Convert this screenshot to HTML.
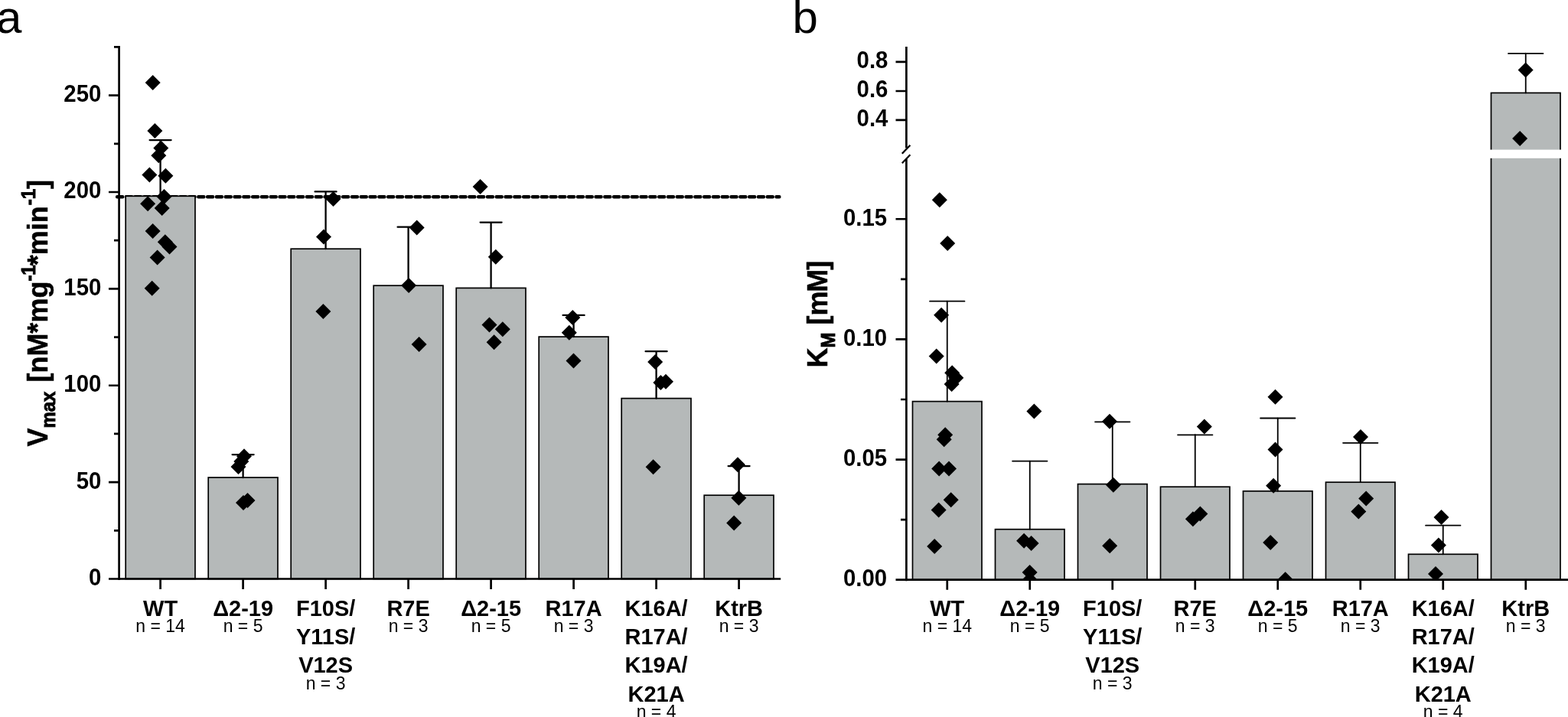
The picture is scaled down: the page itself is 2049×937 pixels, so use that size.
<!DOCTYPE html>
<html lang="en"><head><meta charset="utf-8"><title>Figure</title>
<style>html,body{margin:0;padding:0;background:#fff}body{width:2049px;height:937px;overflow:hidden}svg{display:block}text{font-family:"Liberation Sans",sans-serif;fill:#000}.x{font-weight:bold;font-size:29px}.b{font-weight:bold;font-size:29.4px}.n{font-size:23px}.yl{font-weight:bold;font-size:36px}.yl{stroke:#000;stroke-width:0.5px}.s{font-size:24px;stroke-width:0.9px}.pl{font-size:60px}</style></head><body>
<svg width="2049" height="937" viewBox="0 0 2049 937">
<rect width="2049" height="937" fill="#fff"/>
<defs><clipPath id="ca"><rect x="0" y="0" width="1040" height="756.5"/></clipPath><clipPath id="cb"><rect x="1040" y="0" width="1009" height="757.7"/></clipPath></defs>
<!-- panel a -->
<text class="pl" x="-5" y="42.6">a</text>
<line x1="153.1" y1="257.2" x2="1018.4" y2="257.2" stroke="#000" stroke-width="4.4" stroke-dasharray="7.1 4.7" stroke-linecap="round"/>
<g fill="#b5b9b9" stroke="#000" stroke-width="1.7">
<rect x="164.2" y="256.3" width="90.8" height="500.2"/>
<rect x="272.2" y="624" width="90.8" height="132.5"/>
<rect x="380.2" y="325.2" width="90.8" height="431.3"/>
<rect x="488.2" y="373.2" width="90.8" height="383.3"/>
<rect x="596.2" y="376.4" width="90.8" height="380.1"/>
<rect x="704.2" y="440.1" width="90.8" height="316.4"/>
<rect x="812.2" y="520.6" width="90.8" height="235.9"/>
<rect x="920.2" y="647.2" width="90.8" height="109.3"/>
</g>
<g stroke="#000" stroke-width="2.3" fill="none" stroke-linecap="round">
<path d="M209.6 256.3V183.1M195.6 183.1H223.6"/>
<path d="M317.6 624V594.1M303.6 594.1H331.6"/>
<path d="M425.6 325.2V250.4M411.6 250.4H439.6"/>
<path d="M533.6 373.2V296.7M519.6 296.7H547.6"/>
<path d="M641.6 376.4V290.6M627.6 290.6H655.6"/>
<path d="M749.6 440.1V411.9M735.6 411.9H763.6"/>
<path d="M857.6 520.6V459.2M843.6 459.2H871.6"/>
<path d="M965.6 647.2V609.1M951.6 609.1H979.6"/>
</g>
<g fill="#000" clip-path="url(#ca)">
<path d="M199.7 97.9L209.7 107.9L199.7 117.9L189.7 107.9Z"/>
<path d="M202.4 160.9L212.4 170.9L202.4 180.9L192.4 170.9Z"/>
<path d="M210.3 183.6L220.3 193.6L210.3 203.6L200.3 193.6Z"/>
<path d="M207.3 193.2L217.3 203.2L207.3 213.2L197.3 203.2Z"/>
<path d="M195.4 218.6L205.4 228.6L195.4 238.6L185.4 228.6Z"/>
<path d="M216.4 219.7L226.4 229.7L216.4 239.7L206.4 229.7Z"/>
<path d="M214.5 246.9L224.5 256.9L214.5 266.9L204.5 256.9Z"/>
<path d="M193.1 256.3L203.1 266.3L193.1 276.3L183.1 266.3Z"/>
<path d="M211.7 262L221.7 272L211.7 282L201.7 272Z"/>
<path d="M199.6 292.1L209.6 302.1L199.6 312.1L189.6 302.1Z"/>
<path d="M215.8 306.2L225.8 316.2L215.8 326.2L205.8 316.2Z"/>
<path d="M221.5 312.5L231.5 322.5L221.5 332.5L211.5 322.5Z"/>
<path d="M205.6 326.5L215.6 336.5L205.6 346.5L195.6 336.5Z"/>
<path d="M198.7 366.8L208.7 376.8L198.7 386.8L188.7 376.8Z"/>
<path d="M319 586.2L329 596.2L319 606.2L309 596.2Z"/>
<path d="M315.3 593L325.3 603L315.3 613L305.3 603Z"/>
<path d="M311.5 600L321.5 610L311.5 620L301.5 610Z"/>
<path d="M318 647.1L328 657.1L318 667.1L308 657.1Z"/>
<path d="M323.5 644.1L333.5 654.1L323.5 664.1L313.5 654.1Z"/>
<path d="M435.5 249.9L445.5 259.9L435.5 269.9L425.5 259.9Z"/>
<path d="M423 299.5L433 309.5L423 319.5L413 309.5Z"/>
<path d="M422.4 397.1L432.4 407.1L422.4 417.1L412.4 407.1Z"/>
<path d="M544.7 287.6L554.7 297.6L544.7 307.6L534.7 297.6Z"/>
<path d="M534.1 362.9L544.1 372.9L534.1 382.9L524.1 372.9Z"/>
<path d="M547.6 440L557.6 450L547.6 460L537.6 450Z"/>
<path d="M627.6 233.9L637.6 243.9L627.6 253.9L617.6 243.9Z"/>
<path d="M647.8 325.7L657.8 335.7L647.8 345.7L637.8 335.7Z"/>
<path d="M639.5 414.4L649.5 424.4L639.5 434.4L629.5 424.4Z"/>
<path d="M656.8 420.2L666.8 430.2L656.8 440.2L646.8 430.2Z"/>
<path d="M645.6 437.2L655.6 447.2L645.6 457.2L635.6 447.2Z"/>
<path d="M748.3 405.1L758.3 415.1L748.3 425.1L738.3 415.1Z"/>
<path d="M743.8 424.7L753.8 434.7L743.8 444.7L733.8 434.7Z"/>
<path d="M749.5 461.5L759.5 471.5L749.5 481.5L739.5 471.5Z"/>
<path d="M856.2 463L866.2 473L856.2 483L846.2 473Z"/>
<path d="M863.4 489.9L873.4 499.9L863.4 509.9L853.4 499.9Z"/>
<path d="M870 488.8L880 498.8L870 508.8L860 498.8Z"/>
<path d="M853.6 600.2L863.6 610.2L853.6 620.2L843.6 610.2Z"/>
<path d="M964 597.3L974 607.3L964 617.3L954 607.3Z"/>
<path d="M965.4 640.8L975.4 650.8L965.4 660.8L955.4 650.8Z"/>
<path d="M959.2 673.5L969.2 683.5L959.2 693.5L949.2 683.5Z"/>
</g>
<g stroke="#000" stroke-width="2.7" fill="none">
<path d="M155.6 60V758.1"/>
<path d="M142 756.5H1020.2"/>
<path d="M149 693.31H155.6M142 630.12H155.6M149 566.93H155.6M142 503.74H155.6M149 440.55H155.6M142 377.36H155.6M149 314.17H155.6M142 250.98H155.6M149 187.79H155.6M142 124.6H155.6M149 61.41H155.6M209.6 756.5V770M317.6 756.5V770M425.6 756.5V770M533.6 756.5V770M641.6 756.5V770M749.6 756.5V770M857.6 756.5V770M965.6 756.5V770"/>
</g>
<g text-anchor="end">
<text class="b" transform="translate(132.4 764.9) scale(1 1.06)">0</text>
<text class="b" transform="translate(132.4 638.52) scale(1 1.06)">50</text>
<text class="b" transform="translate(132.4 512.14) scale(1 1.06)">100</text>
<text class="b" transform="translate(132.4 385.76) scale(1 1.06)">150</text>
<text class="b" transform="translate(132.4 259.38) scale(1 1.06)">200</text>
<text class="b" transform="translate(132.4 133) scale(1 1.06)">250</text>
</g>
<text class="yl" transform="translate(61.6 583.6) rotate(-90) scale(1 1.04)">V<tspan class="s" dy="9.6">max</tspan><tspan dy="-9.6" dx="2"> [nM*mg</tspan><tspan class="s" dy="-15">-1</tspan><tspan dy="15" dx="-1">*min</tspan><tspan class="s" dy="-15" dx="1">-1</tspan><tspan dy="15">]</tspan></text>
<g text-anchor="middle">
<text class="x" transform="translate(209.6 804.6) scale(1 1.03)">WT</text>
<text class="n" x="209.6" y="826.2">n = 14</text>
<text class="x" transform="translate(317.6 804.6) scale(1 1.03)">Δ2-19</text>
<text class="n" x="317.6" y="826.2">n = 5</text>
<text class="x" transform="translate(425.6 804.6) scale(1 1.03)">F10S/</text>
<text class="x" transform="translate(425.6 842) scale(1 1.03)">Y11S/</text>
<text class="x" transform="translate(425.6 879.4) scale(1 1.03)">V12S</text>
<text class="n" x="425.6" y="901">n = 3</text>
<text class="x" transform="translate(533.6 804.6) scale(1 1.03)">R7E</text>
<text class="n" x="533.6" y="826.2">n = 3</text>
<text class="x" transform="translate(641.6 804.6) scale(1 1.03)">Δ2-15</text>
<text class="n" x="641.6" y="826.2">n = 5</text>
<text class="x" transform="translate(749.6 804.6) scale(1 1.03)">R17A</text>
<text class="n" x="749.6" y="826.2">n = 3</text>
<text class="x" transform="translate(857.6 804.6) scale(1 1.03)">K16A/</text>
<text class="x" transform="translate(857.6 842) scale(1 1.03)">R17A/</text>
<text class="x" transform="translate(857.6 879.4) scale(1 1.03)">K19A/</text>
<text class="x" transform="translate(857.6 916.8) scale(1 1.03)">K21A</text>
<text class="n" x="857.6" y="938.4">n = 4</text>
<text class="x" transform="translate(965.6 804.6) scale(1 1.03)">KtrB</text>
<text class="n" x="965.6" y="826.2">n = 3</text>
</g>
<!-- panel b -->
<text class="pl" x="1035.6" y="42.6">b</text>
<g fill="#b5b9b9" stroke="#000" stroke-width="1.7">
<rect x="1192.5" y="524.6" width="90.5" height="233.1"/>
<rect x="1300.5" y="691.7" width="90.5" height="66"/>
<rect x="1408.5" y="632.6" width="90.5" height="125.1"/>
<rect x="1516.5" y="636.2" width="90.5" height="121.5"/>
<rect x="1624.5" y="641.8" width="90.5" height="115.9"/>
<rect x="1732.5" y="630.2" width="90.5" height="127.5"/>
<rect x="1840.5" y="724.3" width="90.5" height="33.4"/>
<rect x="1948.5" y="121.4" width="90.5" height="636.3"/>
</g>
<rect x="1940" y="195.6" width="109" height="11.2" fill="#fff"/>
<g stroke="#000" stroke-width="1.8" fill="none" stroke-linecap="round">
<path d="M1237.75 524.6V393.4M1215.05 393.7H1260.45"/>
<path d="M1345.75 691.7V602.3M1323.05 602.6H1368.45"/>
<path d="M1453.75 632.6V551M1431.05 551.3H1476.45"/>
<path d="M1561.75 636.2V568M1539.05 568.3H1584.45"/>
<path d="M1669.75 641.8V546.2M1647.05 546.5H1692.45"/>
<path d="M1777.75 630.2V578.5M1755.05 578.8H1800.45"/>
<path d="M1885.75 724.3V686.4M1863.05 686.7H1908.45"/>
<path d="M1993.75 121.4V69.6M1971.05 69.9H2016.45"/>
</g>
<g fill="#000" clip-path="url(#cb)">
<path d="M1227.8 251.2L1237.8 261.2L1227.8 271.2L1217.8 261.2Z"/>
<path d="M1238.2 307.9L1248.2 317.9L1238.2 327.9L1228.2 317.9Z"/>
<path d="M1230.1 401.7L1240.1 411.7L1230.1 421.7L1220.1 411.7Z"/>
<path d="M1223.7 455.6L1233.7 465.6L1223.7 475.6L1213.7 465.6Z"/>
<path d="M1244.2 477.2L1254.2 487.2L1244.2 497.2L1234.2 487.2Z"/>
<path d="M1249.3 483.7L1259.3 493.7L1249.3 503.7L1239.3 493.7Z"/>
<path d="M1243.6 492.1L1253.6 502.1L1243.6 512.1L1233.6 502.1Z"/>
<path d="M1235.2 558.2L1245.2 568.2L1235.2 578.2L1225.2 568.2Z"/>
<path d="M1233.7 564.2L1243.7 574.2L1233.7 584.2L1223.7 574.2Z"/>
<path d="M1227.2 602.4L1237.2 612.4L1227.2 622.4L1217.2 612.4Z"/>
<path d="M1240 602.4L1250 612.4L1240 622.4L1230 612.4Z"/>
<path d="M1242.7 643.3L1252.7 653.3L1242.7 663.3L1232.7 653.3Z"/>
<path d="M1226.6 656.4L1236.6 666.4L1226.6 676.4L1216.6 666.4Z"/>
<path d="M1221.2 703.9L1231.2 713.9L1221.2 723.9L1211.2 713.9Z"/>
<path d="M1351.4 527.5L1361.4 537.5L1351.4 547.5L1341.4 537.5Z"/>
<path d="M1338.1 696.7L1348.1 706.7L1338.1 716.7L1328.1 706.7Z"/>
<path d="M1347.6 700.1L1357.6 710.1L1347.6 720.1L1337.6 710.1Z"/>
<path d="M1345.6 737.9L1355.6 747.9L1345.6 757.9L1335.6 747.9Z"/>
<path d="M1345.6 747.5L1355.6 757.5L1345.6 767.5L1335.6 757.5Z"/>
<path d="M1450 540.7L1460 550.7L1450 560.7L1440 550.7Z"/>
<path d="M1454.9 623.7L1464.9 633.7L1454.9 643.7L1444.9 633.7Z"/>
<path d="M1450.2 703.3L1460.2 713.3L1450.2 723.3L1440.2 713.3Z"/>
<path d="M1573.8 547.5L1583.8 557.5L1573.8 567.5L1563.8 557.5Z"/>
<path d="M1568.4 661.4L1578.4 671.4L1568.4 681.4L1558.4 671.4Z"/>
<path d="M1558.9 668.3L1568.9 678.3L1558.9 688.3L1548.9 678.3Z"/>
<path d="M1666.5 508.7L1676.5 518.7L1666.5 528.7L1656.5 518.7Z"/>
<path d="M1666.5 577.4L1676.5 587.4L1666.5 597.4L1656.5 587.4Z"/>
<path d="M1664.1 624.7L1674.1 634.7L1664.1 644.7L1654.1 634.7Z"/>
<path d="M1660.2 699.1L1670.2 709.1L1660.2 719.1L1650.2 709.1Z"/>
<path d="M1679.6 747.3L1689.6 757.3L1679.6 767.3L1669.6 757.3Z"/>
<path d="M1778 561L1788 571L1778 581L1768 571Z"/>
<path d="M1785.2 641.4L1795.2 651.4L1785.2 661.4L1775.2 651.4Z"/>
<path d="M1775.3 658.4L1785.3 668.4L1775.3 678.4L1765.3 668.4Z"/>
<path d="M1883.5 665.9L1893.5 675.9L1883.5 685.9L1873.5 675.9Z"/>
<path d="M1879.9 702.4L1889.9 712.4L1879.9 722.4L1869.9 712.4Z"/>
<path d="M1876 740L1886 750L1876 760L1866 750Z"/>
<path d="M1993.6 81.4L2003.6 91.4L1993.6 101.4L1983.6 91.4Z"/>
<path d="M1986.1 171L1996.1 181L1986.1 191L1976.1 181Z"/>
</g>
<g stroke="#000" stroke-width="2.7" fill="none">
<path d="M1184.4 61V193.5M1184.4 208V759.3"/>
<path d="M1170.5 757.7H2049"/>
<path d="M1177 679.12H1184.4M1170.5 600.55H1184.4M1177 521.98H1184.4M1170.5 443.4H1184.4M1177 364.83H1184.4M1170.5 286.25H1184.4M1170.5 80.9H1184.4M1170.5 119H1184.4M1170.5 156.8H1184.4M1237.75 757.7V770.8M1345.75 757.7V770.8M1453.75 757.7V770.8M1561.75 757.7V770.8M1669.75 757.7V770.8M1777.75 757.7V770.8M1885.75 757.7V770.8M1993.75 757.7V770.8"/>
</g>
<path d="M1178.8 200.8L1189.4 189.7M1178.8 213.3L1189.4 202.2" stroke="#000" stroke-width="2.3" fill="none"/>
<g text-anchor="end">
<text class="b" transform="translate(1159.2 766.3) scale(1 1.06)">0.00</text>
<text class="b" transform="translate(1159.2 609.15) scale(1 1.06)">0.05</text>
<text class="b" transform="translate(1159.2 452) scale(1 1.06)">0.10</text>
<text class="b" transform="translate(1159.2 294.85) scale(1 1.06)">0.15</text>
<text class="b" transform="translate(1160.4 89.3) scale(1 1.06)">0.8</text>
<text class="b" transform="translate(1160.4 127.4) scale(1 1.06)">0.6</text>
<text class="b" transform="translate(1160.4 165.2) scale(1 1.06)">0.4</text>
</g>
<text class="yl" transform="translate(1081 480.5) rotate(-90) scale(1 1.04)">K<tspan class="s" dy="9.4">M</tspan><tspan dy="-9.4"> [m</tspan><tspan dx="-1.2">M</tspan><tspan dx="-1">]</tspan></text>
<g text-anchor="middle">
<text class="x" transform="translate(1237.75 804.6) scale(1 1.03)">WT</text>
<text class="n" x="1237.75" y="826.2">n = 14</text>
<text class="x" transform="translate(1345.75 804.6) scale(1 1.03)">Δ2-19</text>
<text class="n" x="1345.75" y="826.2">n = 5</text>
<text class="x" transform="translate(1453.75 804.6) scale(1 1.03)">F10S/</text>
<text class="x" transform="translate(1453.75 842) scale(1 1.03)">Y11S/</text>
<text class="x" transform="translate(1453.75 879.4) scale(1 1.03)">V12S</text>
<text class="n" x="1453.75" y="901">n = 3</text>
<text class="x" transform="translate(1561.75 804.6) scale(1 1.03)">R7E</text>
<text class="n" x="1561.75" y="826.2">n = 3</text>
<text class="x" transform="translate(1669.75 804.6) scale(1 1.03)">Δ2-15</text>
<text class="n" x="1669.75" y="826.2">n = 5</text>
<text class="x" transform="translate(1777.75 804.6) scale(1 1.03)">R17A</text>
<text class="n" x="1777.75" y="826.2">n = 3</text>
<text class="x" transform="translate(1885.75 804.6) scale(1 1.03)">K16A/</text>
<text class="x" transform="translate(1885.75 842) scale(1 1.03)">R17A/</text>
<text class="x" transform="translate(1885.75 879.4) scale(1 1.03)">K19A/</text>
<text class="x" transform="translate(1885.75 916.8) scale(1 1.03)">K21A</text>
<text class="n" x="1885.75" y="938.4">n = 4</text>
<text class="x" transform="translate(1993.75 804.6) scale(1 1.03)">KtrB</text>
<text class="n" x="1993.75" y="826.2">n = 3</text>
</g>
</svg></body></html>
